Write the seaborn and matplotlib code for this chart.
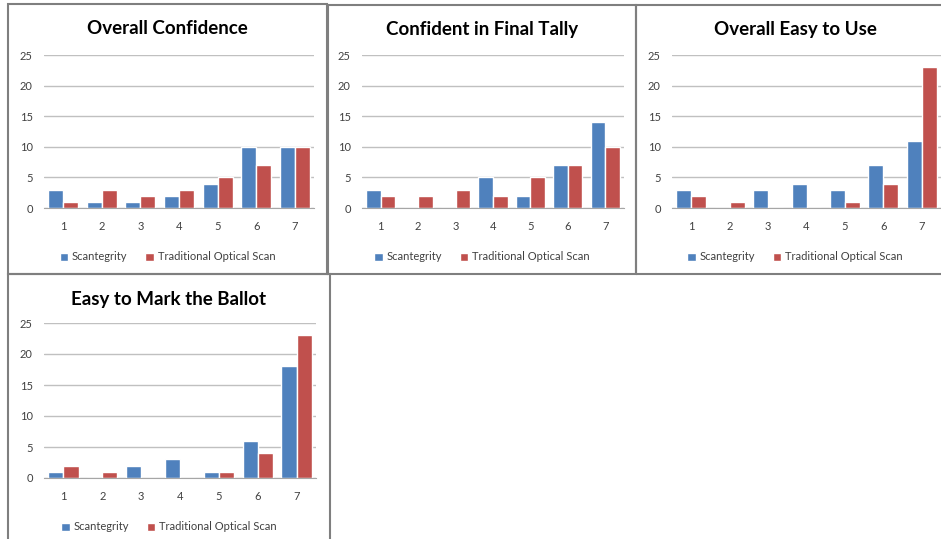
import numpy as np
import pandas as pd
import seaborn as sns
import matplotlib.pyplot as plt
from matplotlib.patches import Rectangle

# survey answers, rating 1..7
ratings = [1, 2, 3, 4, 5, 6, 7]
series = ["Scantegrity", "Traditional Optical Scan"]

titles = ["Overall Confidence", "Confident in Final Tally",
          "Overall Easy to Use", "Easy to Mark the Ballot"]

conf_scan = [3, 1, 1, 2, 4, 10, 10]
conf_trad = [1, 3, 2, 3, 5, 7, 10]
tally_scan = [3, 0, 0, 5, 2, 7, 14]
tally_trad = [2, 2, 3, 2, 5, 7, 10]
use_scan = [3, 0, 3, 4, 3, 7, 11]
use_trad = [2, 1, 0, 0, 1, 4, 23]
mark_scan = [1, 0, 2, 3, 1, 6, 18]
mark_trad = [2, 1, 0, 0, 1, 4, 23]

sns.set_style('white')
plt.rcParams['font.family'] = ['Lato', 'DejaVu Sans']

W, H = 941, 539
fig = plt.figure(figsize=(W / 100, H / 100), dpi=100)
fig.patch.set_facecolor('white')

colors = ["#4F81BD", "#C0504D"]


def fx(px):
    return px / W


def fy(py):
    return 1 - py / H


# (panel box x0, y0, x1, y1), (plot area x0, y0, x1, y1) in pixels
layout = [
    ((8, 4, 327, 274), (44, 55, 314, 208)),
    ((328, 5, 636, 274), (362, 55, 624, 208)),
    ((636, 5, 960, 274), (672, 55, 941, 208)),
    ((8, 274, 330, 545), (44, 323, 316, 478)),
]
data = [(conf_scan, conf_trad), (tally_scan, tally_trad),
        (use_scan, use_trad), (mark_scan, mark_trad)]

for (box, area), title, (s1, s2) in zip(layout, titles, data):
    bx0, by0, bx1, by1 = box
    fig.patches.append(Rectangle((fx(bx0), fy(by1)), fx(bx1 - bx0), (by1 - by0) / H,
                                 transform=fig.transFigure, fill=False,
                                 edgecolor='#7f7f7f', linewidth=1.5, zorder=0))
    ax0, ay0, ax1, ay1 = area
    ax = fig.add_axes([fx(ax0), fy(ay1), fx(ax1 - ax0), (ay1 - ay0) / H])
    df = pd.DataFrame({
        "rating": ratings * 2,
        "count": s1 + s2,
        "system": [series[0]] * 7 + [series[1]] * 7,
    })
    sns.barplot(data=df, x="rating", y="count", hue="system", ax=ax,
                palette=colors, width=0.78, edgecolor='white', linewidth=1.0,
                saturation=1)
    ax.set_ylim(0, 25)
    ax.set_yticks([0, 5, 10, 15, 20, 25])
    ax.set_xlim(-0.5, 6.5)
    ax.set_xlabel("")
    ax.set_ylabel("")
    ax.yaxis.grid(True, color='#c0c0c0', linewidth=1)
    ax.set_axisbelow(True)
    for side in ['left', 'right', 'top']:
        ax.spines[side].set_visible(False)
    ax.spines['bottom'].set_color('#a6a6a6')
    ax.tick_params(axis='both', labelsize=8, colors='#404040', length=0)
    ax.tick_params(axis='y', pad=8)
    ax.tick_params(axis='x', pad=9)
    ax.legend_.remove()
    cx = fx((bx0 + bx1) / 2) if bx1 < W else fx(795)
    fig.text(cx, fy(by0 + 25), title, ha='center', va='center',
             fontsize=13.5, fontweight='bold', color='black')
    handles, labels = ax.get_legend_handles_labels()
    fig.legend(handles, labels, loc='center', ncol=2, frameon=False,
               bbox_to_anchor=(cx, fy(ay1 + 49)), bbox_transform=fig.transFigure,
               fontsize=8, handlelength=0.75, handleheight=0.75,
               handletextpad=0.35, columnspacing=1.6, labelcolor='#404040')

fig.savefig("out.png", dpi=100, facecolor='white')
